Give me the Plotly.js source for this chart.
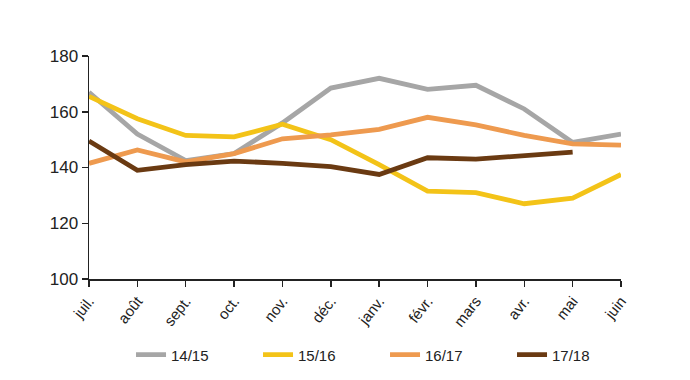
<!DOCTYPE html>
<html>
<head>
<meta charset="utf-8">
<script src="https://cdn.plot.ly/plotly-3.0.1.min.js"></script>
<style>html,body{margin:0;padding:0;background:#fff;}#chart{width:690px;height:380px;}</style>
</head>
<body>
<div id="chart"></div>
<script>
const months = ["juil.", "août", "sept.", "oct.", "nov.", "déc.", "janv.", "févr.", "mars", "avr.", "mai", "juin"];
const s1415 = [167, 152, 142.5, 145, 156, 168.5, 172, 168, 169.5, 161, 149, 152];
const s1516 = [165.5, 157.5, 151.5, 151, 155.5, 150, 141, 131.5, 131, 127, 129, 137.5];
const s1617 = [141.5, 146.3, 142, 145, 150.3, 151.7, 153.7, 158, 155.3, 151.5, 148.5, 148];
const s1718 = [149.5, 139, 141, 142.3, 141.5, 140.3, 137.5, 143.5, 143, 144.2, 145.5, null];
const seriesNames = ["14/15", "15/16", "16/17", "17/18"];
const seriesColors = ["#A6A6A6", "#F3C318", "#EE9A4F", "#6A3A12"];
const seriesData = [s1415, s1516, s1617, s1718];

const FONT = "Liberation Sans Narrow, Arial Narrow, Liberation Sans, Arial, sans-serif";
const traces = seriesData.map((d, i) => ({
  x: months, y: d, name: seriesNames[i], type: "scatter", mode: "lines",
  line: {color: seriesColors[i], width: 4.8}, connectgaps: false
}));

const layout = {
  width: 690, height: 380,
  margin: {l: 89, r: 69, t: 56, b: 101, autoexpand: false},
  paper_bgcolor: "#fff", plot_bgcolor: "#fff",
  font: {family: FONT, color: "#222"},
  showlegend: true,
  legend: {orientation: "h", x: 0.558, xanchor: "center", xref: "container", yref: "container",
           y: 0.066, yanchor: "middle",
           font: {size: 15, family: FONT, color: "#222"}, entrywidth: 82, entrywidthmode: "pixels",
           traceorder: "normal"},
  xaxis: {type: "category", range: [0, 11], showgrid: false, zeroline: false,
          showline: true, linecolor: "#222", linewidth: 1.5,
          ticks: "outside", ticklen: 6, tickcolor: "#222", tickwidth: 1.5,
          tickangle: -52, tickfont: {size: 15, family: FONT, color: "#222"}},
  yaxis: {range: [100, 180], tickvals: [100, 120, 140, 160, 180], showgrid: false, zeroline: false,
          showline: true, linecolor: "#222", linewidth: 1.5,
          ticks: "outside", ticklen: 6, tickcolor: "#222", tickwidth: 1.5,
          tickfont: {size: 17, family: FONT, color: "#222"}}
};
Plotly.newPlot("chart", traces, layout, {displayModeBar: false, staticPlot: true});
</script>
</body>
</html>
